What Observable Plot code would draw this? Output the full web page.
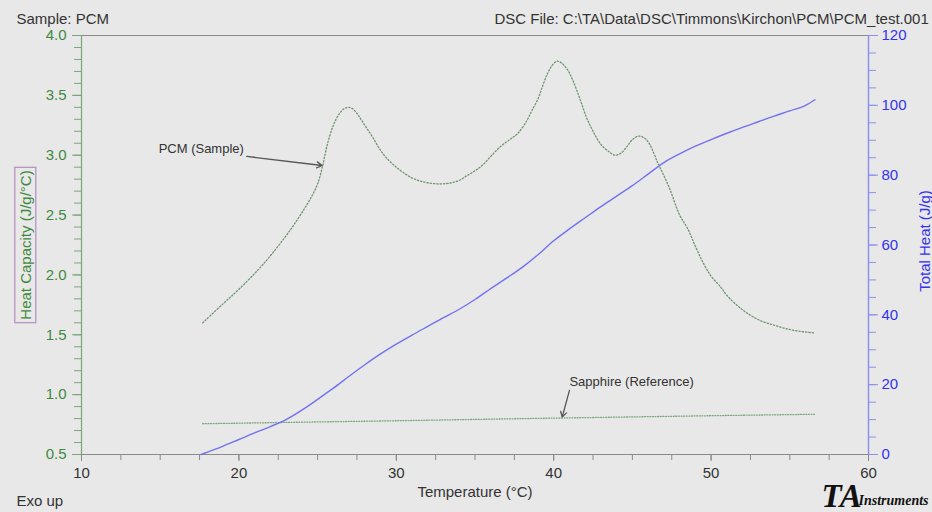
<!DOCTYPE html>
<html>
<head>
<meta charset="utf-8">
<script src="https://cdn.jsdelivr.net/npm/d3@7"></script>
<script src="https://cdn.jsdelivr.net/npm/@observablehq/plot@0.6"></script>
<style>
  html, body { margin: 0; padding: 0; background: #e8e8e8; }
  svg { display: block; }
</style>
</head>
<body>
<div id="chart"></div>
<script>
// ---- Data ----
const pcmTemp = [17.7, 19.0, 20.0, 21.2, 22.0, 22.9, 23.5, 24.1, 24.6, 25.0, 25.3, 25.6, 26.0, 26.4, 26.7, 27.0, 27.3, 27.6, 28.0, 28.5, 29.0, 29.5, 30.0, 30.5, 31.0, 31.5, 32.0, 32.8, 33.5, 34.0, 34.5, 35.0, 35.5, 36.0, 36.6, 37.2, 37.7, 38.3, 38.6, 39.0, 39.3, 39.6, 39.9, 40.2, 40.5, 40.9, 41.2, 41.5, 41.8, 42.1, 42.5, 43.0, 43.5, 43.9, 44.3, 44.7, 45.0, 45.4, 45.8, 46.1, 46.6, 47.0, 47.4, 48.0, 48.5, 49.0, 49.5, 50.0, 50.6, 51.0, 51.7, 52.3, 53.1, 54.0, 54.8, 55.6, 56.6];
const pcmCp = [1.60, 1.76, 1.88, 2.04, 2.16, 2.31, 2.42, 2.54, 2.65, 2.76, 2.90, 3.08, 3.25, 3.35, 3.39, 3.40, 3.38, 3.33, 3.25, 3.15, 3.04, 2.96, 2.90, 2.85, 2.81, 2.785, 2.77, 2.76, 2.77, 2.79, 2.83, 2.87, 2.92, 2.99, 3.07, 3.13, 3.18, 3.29, 3.37, 3.47, 3.58, 3.68, 3.75, 3.785, 3.77, 3.71, 3.63, 3.53, 3.42, 3.31, 3.20, 3.09, 3.03, 3.00, 3.02, 3.08, 3.13, 3.16, 3.14, 3.09, 2.94, 2.83, 2.71, 2.50, 2.39, 2.24, 2.10, 1.99, 1.90, 1.83, 1.74, 1.68, 1.62, 1.58, 1.55, 1.53, 1.515];

const sapphireTemp = [17.7, 25, 30, 35, 40, 45, 50, 56.6];
const sapphireCp = [0.757, 0.772, 0.782, 0.793, 0.804, 0.814, 0.824, 0.836];

const heatTemp = [17.6, 19, 20, 21, 22, 23, 24, 25, 26, 27, 28, 29, 30, 31, 32, 33, 34, 35, 36, 37, 38, 39, 40, 41, 42, 43, 44, 45, 46, 47, 48, 49, 50, 51, 52, 53, 54, 55, 56, 56.6];
const heatTotal = [0, 2.4, 4.3, 6.2, 8.0, 10.0, 12.7, 15.8, 19.0, 22.4, 25.7, 28.8, 31.6, 34.2, 36.7, 39.2, 41.6, 44.4, 47.5, 50.5, 53.6, 57.2, 61.2, 64.6, 67.8, 71.0, 74.0, 77.0, 80.3, 83.6, 86.1, 88.3, 90.2, 92.0, 93.7, 95.3, 96.9, 98.4, 100.0, 101.6];

const tempTicks = [10, 20, 30, 40, 50, 60];
const cpTicks = [0.5, 1.0, 1.5, 2.0, 2.5, 3.0, 3.5, 4.0];
const heatTicks = [0, 20, 40, 60, 80, 100, 120];

const annLabels = ["PCM (Sample)", "Sapphire (Reference)"];
const annTextT = [14.9, 41.0];
const annTextCp = [3.05, 1.11];
const annTailT = [20.5, 41.0];
const annTailCp = [2.99, 1.035];
const annHeadT = [25.29, 40.54];
const annHeadCp = [2.914, 0.812];

// ---- Tables ----
const pcm = pcmTemp.map((t, i) => ({T: t, v: pcmCp[i]}));
const sapphire = sapphireTemp.map((t, i) => ({T: t, v: sapphireCp[i]}));
const heat = heatTemp.map((t, i) => ({T: t, H: heatTotal[i]}));
const ann = annLabels.map((s, i) => ({label: s, tx: annTextT[i], ty: annTextCp[i], x1: annTailT[i], y1: annTailCp[i], x2: annHeadT[i], y2: annHeadCp[i]}));

// right axis (0..120 J/g) mapped onto left domain (0.5..4.0)
const h2y = h => 0.5 + h / 120 * 3.5;
const y2h = y => (y - 0.5) / 3.5 * 120;

const minorCp = d3.range(0.5, 4.0001, 0.1).map(v => +v.toFixed(2));
const minorT = d3.range(10, 60.0001, 2.5);
const minorH = d3.range(0, 120.0001, 5).map(h2y);

const green = "#3f8a3f";
const greenAxis = "#7aa77a";
const blue = "#3333ee";
const blueAxis = "#8f8ff0";
const grey = "#8a8a8a";
const textCol = "#333333";
const serif = "'Liberation Serif', 'DejaVu Serif', serif";

const chart = Plot.plot({
  width: 932,
  height: 512,
  marginLeft: 81,
  marginRight: 64,
  marginTop: 35,
  marginBottom: 58,
  style: {background: "#e8e8e8", fontFamily: "'Liberation Sans', Arial, sans-serif", overflow: "visible"},
  x: {domain: [10, 60]},
  y: {domain: [0.5, 4.0]},
  marks: [
    // minor ticks (no labels)
    Plot.axisY({ticks: minorCp, tickSize: 7, fill: "none", stroke: greenAxis, label: null}),
    Plot.axisY({anchor: "right", ticks: minorH, tickSize: 7, fill: "none", stroke: blueAxis, label: null}),
    Plot.axisX({ticks: minorT, tickSize: 6, fill: "none", stroke: grey, label: null}),
    // major ticks + labels
    Plot.axisY({ticks: cpTicks, tickSize: 9, tickPadding: 6, tickFormat: d3.format(".1f"),
      stroke: greenAxis, fill: green, fontSize: 15, label: null}),
    Plot.axisY({anchor: "right", ticks: heatTicks.map(h2y), tickSize: 9, tickPadding: 4,
      tickFormat: y => String(Math.round(y2h(y))), stroke: blueAxis, fill: blue, fontSize: 15, label: null}),
    Plot.axisX({ticks: tempTicks, tickSize: 7, tickPadding: 6, stroke: grey, fill: textCol, fontSize: 15, label: null}),
    // frame lines
    Plot.ruleY([4.0], {stroke: grey, strokeWidth: 1.2}),
    Plot.ruleY([0.5], {stroke: grey, strokeWidth: 1.2}),
    Plot.ruleX([10], {stroke: greenAxis, strokeWidth: 1.2}),
    Plot.ruleX([60], {stroke: blueAxis, strokeWidth: 1.5}),
    // data
    Plot.line(sapphire, {x: "T", y: "v", stroke: "#7fa87f", strokeWidth: 1.3, strokeDasharray: "1,1.6", curve: "monotone-x"}),
    Plot.line(pcm, {x: "T", y: "v", stroke: "#6f946f", strokeWidth: 1.3, strokeDasharray: "1.3,2", curve: "catmull-rom"}),
    Plot.line(heat, {x: "T", y: d => h2y(d.H), stroke: "#7272ee", strokeWidth: 1.4, curve: "monotone-x"}),
    // annotations
    Plot.arrow(ann, {x1: "x1", y1: "y1", x2: "x2", y2: "y2", stroke: "#555", strokeWidth: 1.3, headLength: 7, bend: 0}),
    Plot.text(ann, {x: "tx", y: "ty", text: "label", textAnchor: "start", fill: textCol, fontSize: 13}),
    // axis titles
    Plot.text(["Heat Capacity (J/g/°C)"], {frameAnchor: "left", dx: -55.5, rotate: -90, textAnchor: "middle", fill: green, fontSize: 15}),
    Plot.text(["Total Heat (J/g)"], {frameAnchor: "right", dx: 57, dy: -4, rotate: -90, textAnchor: "middle", fill: blue, fontSize: 15}),
    Plot.text(["Temperature (°C)"], {frameAnchor: "bottom", dy: 42, fill: textCol, fontSize: 15}),
    // header / footer text
    Plot.text(["Sample: PCM"], {frameAnchor: "top-left", dx: -65, dy: -22, textAnchor: "start", fill: textCol, fontSize: 15}),
    Plot.text(["DSC File: C:\\TA\\Data\\DSC\\Timmons\\Kirchon\\PCM\\PCM_test.001"], {frameAnchor: "top-left", dx: 413, dy: -22, textAnchor: "start", fill: textCol, fontSize: 15}),
    Plot.text(["Exo up"], {frameAnchor: "bottom-left", dx: -65, dy: 51, textAnchor: "start", fill: textCol, fontSize: 15}),
    Plot.text(["TA"], {frameAnchor: "bottom-right", dx: -47, dy: 52, textAnchor: "start", fill: "#111", fontSize: 33, fontWeight: "bold", fontStyle: "italic", fontFamily: serif}),
    Plot.text(["Instruments"], {frameAnchor: "bottom-right", dx: -10, dy: 50, textAnchor: "start", fill: "#111", fontSize: 14, fontWeight: "bold", fontStyle: "italic", fontFamily: serif})
  ]
});

document.getElementById("chart").appendChild(chart);

// box around the left axis title
const svgRect = chart.getBoundingClientRect();
chart.querySelectorAll("text").forEach(t => {
  if (t.textContent === "Heat Capacity (J/g/°C)") {
    const r = t.getBoundingClientRect();
    const rect = document.createElementNS("http://www.w3.org/2000/svg", "rect");
    rect.setAttribute("x", r.left - svgRect.left - 2);
    rect.setAttribute("y", r.top - svgRect.top - 3);
    rect.setAttribute("width", r.width + 4);
    rect.setAttribute("height", r.height + 6);
    rect.setAttribute("fill", "none");
    rect.setAttribute("stroke", "#b58cc0");
    rect.setAttribute("stroke-width", "1.2");
    chart.appendChild(rect);
  }
});
</script>
</body>
</html>
